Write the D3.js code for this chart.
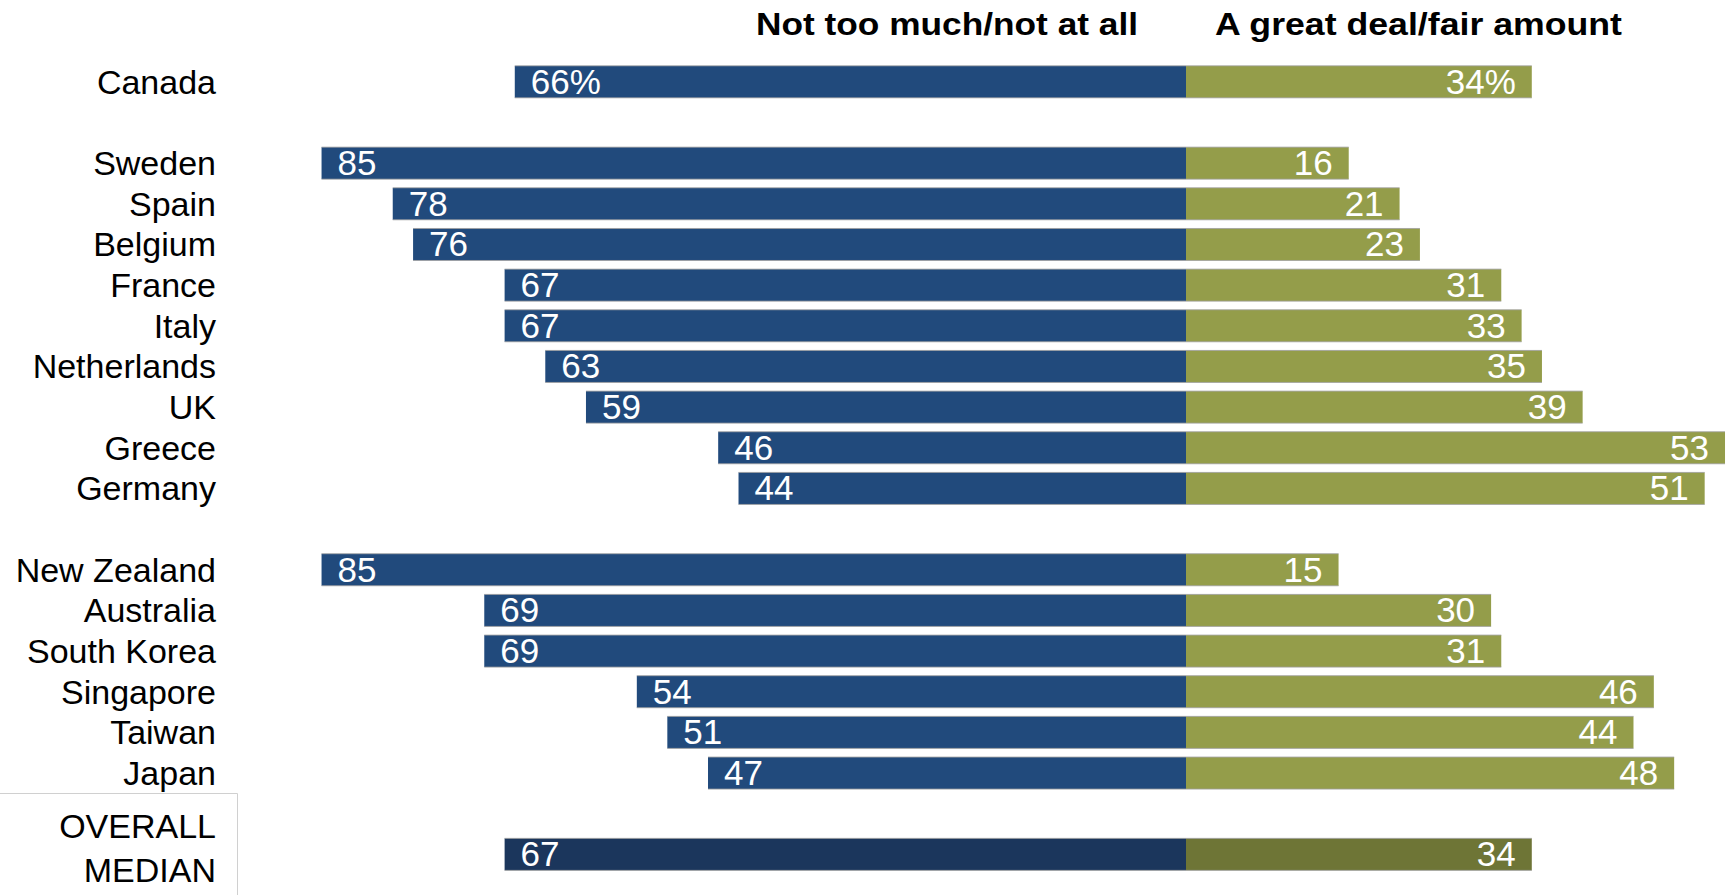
<!DOCTYPE html>
<html>
<head>
<meta charset="utf-8">
<script src="https://cdn.jsdelivr.net/npm/d3@7"></script>
<style>
  html, body { margin: 0; padding: 0; background: #fff; }
  svg { display: block; }
</style>
</head>
<body>
<svg id="chart" width="1733" height="895"></svg>
<script>
// ---- Data ----
const countries = ["Canada", "", "Sweden", "Spain", "Belgium", "France", "Italy", "Netherlands", "UK", "Greece", "Germany", " ", "New Zealand", "Australia", "South Korea", "Singapore", "Taiwan", "Japan", "  ", "OVERALL MEDIAN"];
const notMuch   = [66, null, 85, 78, 76, 67, 67, 63, 59, 46, 44, null, 85, 69, 69, 54, 51, 47, null, 67];
const greatDeal = [34, null, 16, 21, 23, 31, 33, 35, 39, 53, 51, null, 15, 30, 31, 46, 44, 48, null, 34];
const seriesLabels = ["Not too much/not at all", "A great deal/fair amount"];

const colors = { neg: "#214a7c", pos: "#949d4a", negMed: "#1b365c", posMed: "#6e7536" };

const svg = d3.select("#chart");
const zeroX = 1186;
const unit = 10.17;
const x = d3.scaleLinear().domain([-100, 100]).range([zeroX - 100 * unit, zeroX + 100 * unit]);
const y = d3.scaleBand().domain(countries).range([61.5, 61.5 + 40.66 * countries.length]).paddingInner(0.22).paddingOuter(0.11);

const rows = countries.map((c, i) => ({ c, i, n: notMuch[i], g: greatDeal[i], med: c === "OVERALL MEDIAN" }))
  .filter(d => d.n !== null);

const bh = 32;
const yc = d => y(d.c) + y.bandwidth() / 2;

// Median box
svg.append("path")
  .attr("d", "M0,793.5 H237.5 V895")
  .attr("fill", "none").attr("stroke", "#d0d0d0").attr("stroke-width", 1);

const g = svg.append("g");
g.selectAll("rect.neg").data(rows).join("rect")
  .attr("x", d => x(-d.n)).attr("y", d => yc(d) - bh / 2)
  .attr("width", d => x(0) - x(-d.n)).attr("height", bh)
  .attr("fill", d => d.med ? colors.negMed : colors.neg);
g.selectAll("rect.pos").data(rows).join("rect")
  .attr("x", x(0)).attr("y", d => yc(d) - bh / 2)
  .attr("width", d => x(d.g) - x(0)).attr("height", bh)
  .attr("fill", d => d.med ? colors.posMed : colors.pos);
rows.forEach(d => {
  [yc(d) - bh / 2, yc(d) + bh / 2].forEach(yy => {
    g.append("line").attr("x1", x(-d.n)).attr("x2", x(d.g))
      .attr("y1", yy).attr("y2", yy).attr("stroke", "#a0a0a0").attr("stroke-width", 1).attr("opacity", 0.8);
  });
});

const valFont = "'Liberation Sans', Arial, sans-serif";
g.selectAll("text.nv").data(rows).join("text")
  .attr("x", d => x(-d.n) + 16).attr("y", d => yc(d) + 12)
  .attr("fill", "#fff").attr("font-family", valFont).attr("font-size", 35)
  .text(d => d.c === "Canada" ? d.n + "%" : d.n);
g.selectAll("text.gv").data(rows).join("text")
  .attr("x", d => x(d.g) - 16).attr("y", d => yc(d) + 12)
  .attr("text-anchor", "end")
  .attr("fill", "#fff").attr("font-family", valFont).attr("font-size", 35)
  .text(d => d.c === "Canada" ? d.g + "%" : d.g);

rows.filter(d => !d.med).forEach(d => {
  svg.append("text").attr("x", 216).attr("y", yc(d) + 12)
    .attr("text-anchor", "end").attr("font-family", valFont).attr("font-size", 34)
    .attr("fill", "#000").text(d.c);
});
svg.append("text").attr("x", 216).attr("y", 838).attr("text-anchor", "end")
  .attr("font-family", valFont).attr("font-size", 34).text("OVERALL");
svg.append("text").attr("x", 216).attr("y", 882).attr("text-anchor", "end")
  .attr("font-family", valFont).attr("font-size", 34).text("MEDIAN");

svg.append("text").attr("x", 1138).attr("y", 35).attr("text-anchor", "end")
  .attr("font-family", valFont).attr("font-weight", "bold").attr("font-size", 32)
  .attr("textLength", 382).attr("lengthAdjust", "spacingAndGlyphs")
  .text(seriesLabels[0]);
svg.append("text").attr("x", 1215).attr("y", 35)
  .attr("font-family", valFont).attr("font-weight", "bold").attr("font-size", 32)
  .attr("textLength", 407).attr("lengthAdjust", "spacingAndGlyphs")
  .text(seriesLabels[1]);
</script>
</body>
</html>
